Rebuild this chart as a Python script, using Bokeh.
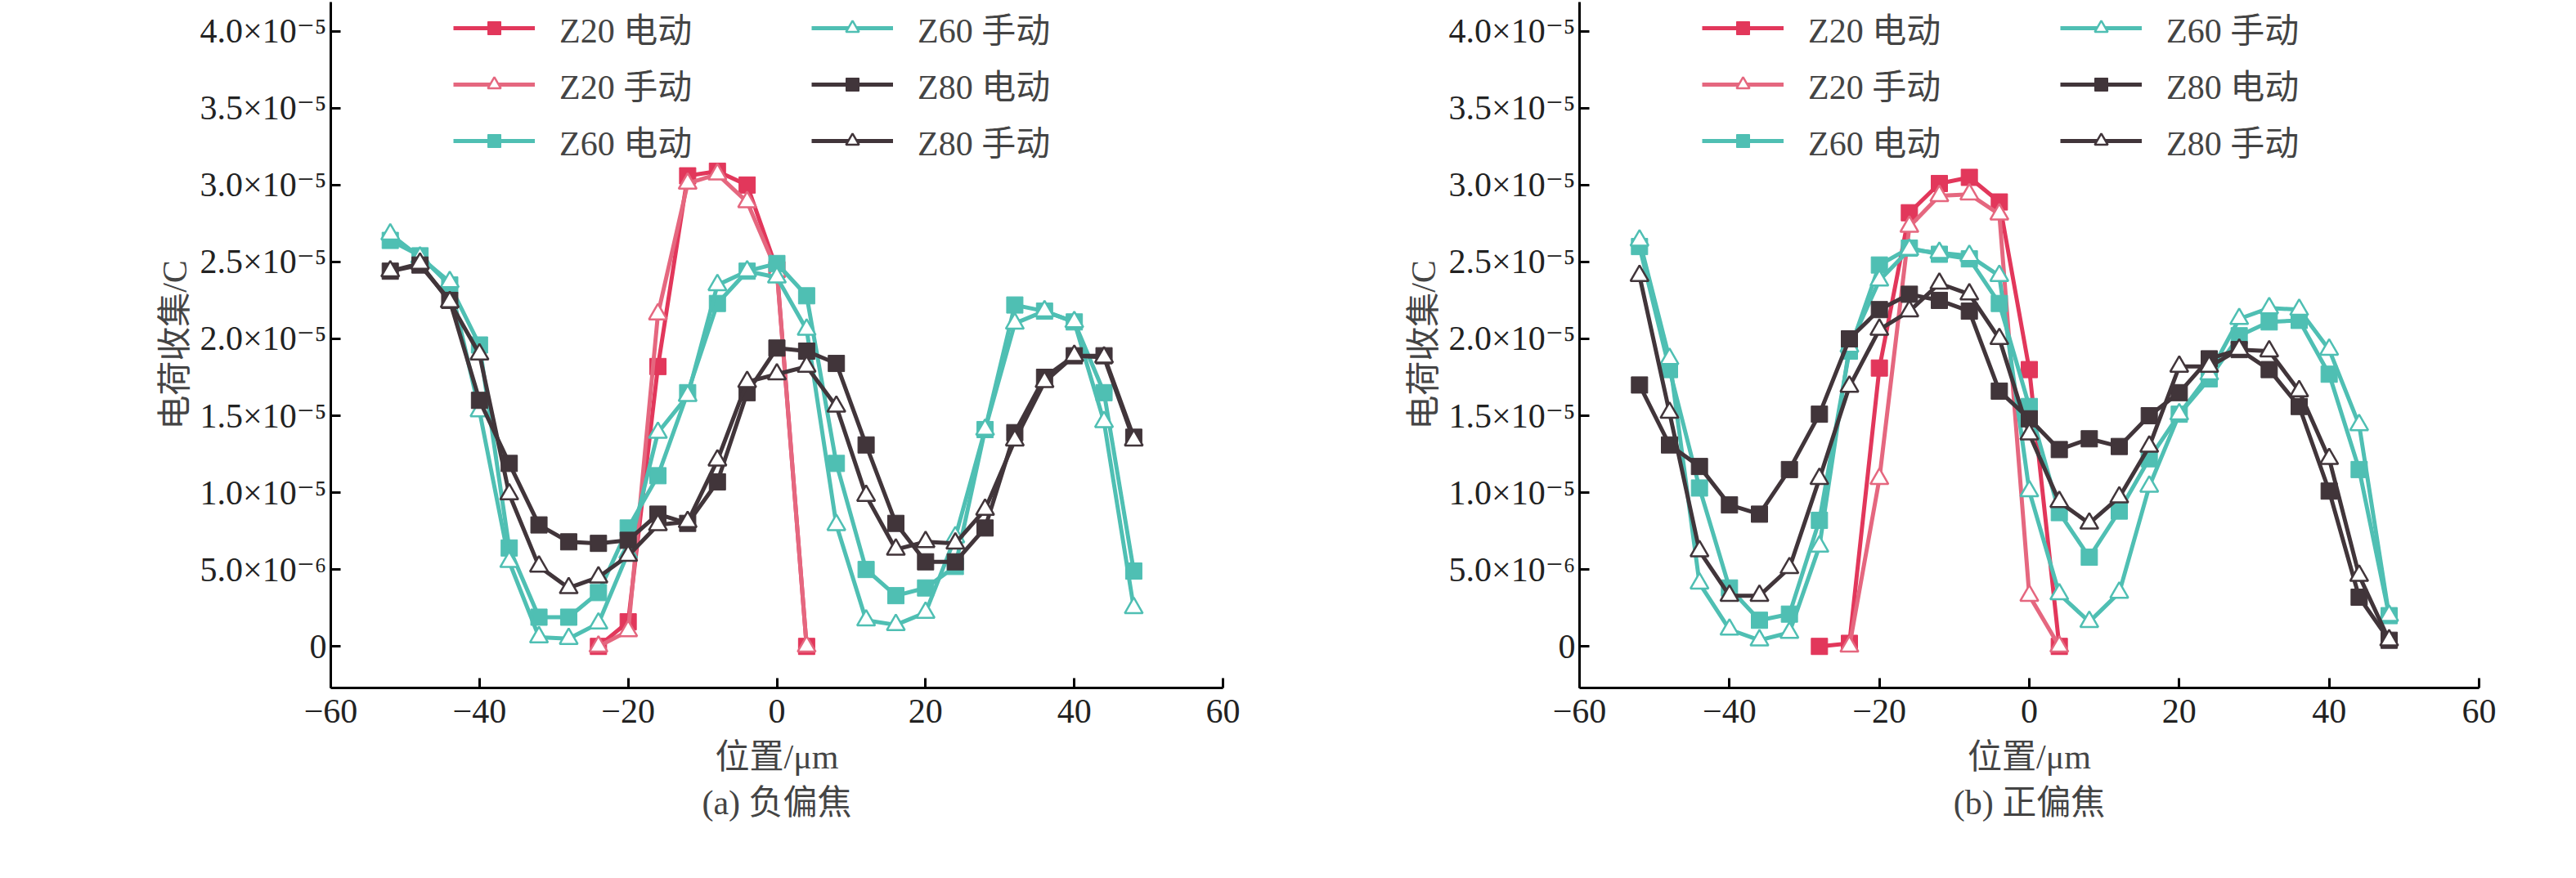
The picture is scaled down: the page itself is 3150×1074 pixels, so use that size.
from bokeh.plotting import figure
from bokeh.layouts import row
from bokeh.models import FixedTicker, Range1d, Title, Legend, LegendItem
from bokeh.embed import file_html
from bokeh.resources import INLINE

x = [-52, -48, -44, -40, -36, -32, -28, -24, -20, -16, -12, -8, -4, 0, 4, 8, 12, 16, 20, 24, 28, 32, 36, 40, 44, 48]
x20a = [-24, -20, -16, -12, -8, -4, 0, 4]
a_z20e = [0, 1.6, 18.2, 30.6, 30.9, 30.0, 24.5, 0]
a_z20m = [0, 1.0, 21.6, 30.1, 30.7, 28.9, 24.4, 0]
a_z60e = [26.4, 25.4, 23.5, 19.6, 6.4, 1.9, 1.9, 3.5, 7.7, 11.1, 16.5, 22.3, 24.4, 24.9, 22.8, 11.9, 5.0, 3.3, 3.8, 5.2, 14.1, 22.2, 21.8, 21.1, 16.5, 4.9]
a_z60m = [26.8, 25.3, 23.7, 15.3, 5.5, 0.6, 0.5, 1.5, 6.1, 13.9, 16.3, 23.5, 24.4, 24.0, 20.6, 7.9, 1.7, 1.4, 2.2, 7.1, 14.1, 21.0, 21.8, 21.1, 14.6, 2.5]
a_z80e = [24.4, 24.8, 22.5, 16.0, 11.9, 7.9, 6.8, 6.7, 6.9, 8.6, 8.0, 10.7, 16.5, 19.4, 19.2, 18.4, 13.1, 8.0, 5.5, 5.5, 7.7, 13.9, 17.5, 18.9, 18.9, 13.6]
a_z80m = [24.4, 24.9, 22.4, 19.0, 9.9, 5.2, 3.8, 4.5, 5.9, 7.9, 8.1, 12.1, 17.2, 17.7, 18.2, 15.6, 9.8, 6.3, 6.8, 6.7, 8.9, 13.4, 17.2, 18.9, 18.8, 13.4]

x20b_e = [-28, -24, -20, -16, -12, -8, -4, 0, 4]
b_z20e = [0, 0.2, 18.1, 28.2, 30.1, 30.5, 28.9, 18.0, 0]
x20b_m = [-24, -20, -16, -12, -8, -4, 0, 4]
b_z20m = [0, 10.9, 27.3, 29.3, 29.4, 28.1, 3.3, 0]
b_z60e = [26.0, 18.0, 10.3, 3.8, 1.7, 2.1, 8.2, 19.2, 24.8, 25.9, 25.5, 25.2, 22.3, 15.6, 8.7, 5.8, 8.8, 12.2, 15.1, 17.4, 20.2, 21.1, 21.2, 17.7, 11.5, 2.0]
b_z60m = [26.4, 18.7, 4.1, 1.1, 0.4, 0.9, 6.5, 19.5, 23.8, 25.8, 25.6, 25.4, 24.1, 10.1, 3.4, 1.6, 3.5, 10.4, 15.1, 17.7, 21.3, 22.0, 21.9, 19.3, 14.4, 2.0]
b_z80e = [17.0, 13.1, 11.7, 9.2, 8.6, 11.5, 15.1, 20.0, 21.9, 22.9, 22.5, 21.8, 16.6, 14.8, 12.8, 13.5, 13.0, 15.0, 16.5, 18.7, 19.3, 18.0, 15.6, 10.1, 3.2, 0.4]
b_z80m = [24.1, 15.2, 6.2, 3.3, 3.3, 5.1, 10.9, 16.9, 20.6, 21.8, 23.6, 22.9, 20.0, 13.8, 9.4, 8.0, 9.7, 13.0, 18.2, 18.2, 19.3, 19.2, 16.6, 12.2, 4.6, 0.4]

labels = ["Z20 电动", "Z20 手动", "Z60 电动", "Z60 手动", "Z80 电动", "Z80 手动"]
yticks = [0, 5e-6, 1e-5, 1.5e-5, 2e-5, 2.5e-5, 3e-5, 3.5e-5, 4e-5]
ytick_labels = ["0", "5.0×10⁻⁶", "1.0×10⁻⁵", "1.5×10⁻⁵", "2.0×10⁻⁵", "2.5×10⁻⁵", "3.0×10⁻⁵", "3.5×10⁻⁵", "4.0×10⁻⁵"]
xticks = [-60, -40, -20, 0, 20, 40, 60]

RED = "#E2375B"
RED2 = "#E5677F"
TEAL = "#4FBFB3"
DARK = "#41353A"
SERIF = "'Liberation Serif', 'DejaVu Serif', serif"
CJK = "'Liberation Serif', 'Noto Sans CJK SC', serif"


def make(series, caption, left, frame_w, width):
    p = figure(width=width, height=1058, output_backend="svg", toolbar_location=None,
               x_range=Range1d(-60, 60), y_range=Range1d(-2.7e-6, 4.19e-5),
               min_border_left=left, min_border_right=width - left - frame_w,
               min_border_top=2, min_border_bottom=217)
    p.outline_line_color = None
    p.xgrid.visible = False
    p.ygrid.visible = False
    for ax in (p.xaxis, p.yaxis):
        ax.major_tick_in = 12
        ax.major_tick_out = 0
        ax.minor_tick_line_color = None
        ax.axis_line_width = 3
        ax.major_tick_line_width = 3
        ax.major_label_text_font = SERIF
        ax.major_label_text_font_size = "42px"
        ax.major_label_text_color = "#222222"
        ax.axis_label_text_font = CJK
        ax.axis_label_text_font_size = "42px"
        ax.axis_label_text_font_style = "normal"
    p.yaxis.ticker = FixedTicker(ticks=yticks)
    p.yaxis.major_label_overrides = {t: l for t, l in zip(yticks, ytick_labels)}
    p.xaxis.ticker = FixedTicker(ticks=xticks)
    p.xaxis.axis_label = "位置/μm"
    p.yaxis.axis_label = "电荷收集/C"
    p.xaxis.major_label_standoff = 14
    p.xaxis.axis_label_standoff = 16

    items = []
    for (xs, ys, color, marker), lab in zip(series, labels):
        yy = [v * 1e-6 for v in ys]
        r1 = p.line(xs, yy, line_color=color, line_width=5)
        if marker == "square":
            r2 = p.scatter(xs, yy, marker="square", size=20, fill_color=color, line_color=color)
        else:
            r2 = p.scatter(xs, yy, marker="triangle", size=22, fill_color="white", line_color=color, line_width=2.5)
        items.append(LegendItem(label=lab, renderers=[r1, r2]))
    leg = Legend(items=items, ncols=2, location=(150, 639), background_fill_alpha=0,
                 border_line_color=None, label_text_font=CJK, label_text_font_size="42px",
                 glyph_width=100, glyph_height=40, spacing=8, label_standoff=30,
                 label_width=300, padding=0, margin=0)
    p.add_layout(leg, "center")
    p.add_layout(Title(text=caption, align="center", text_font=CJK, text_font_size="42px",
                       text_font_style="normal", standoff=10), "below")
    return p


sa = [(x20a, a_z20e, RED, "square"), (x20a, a_z20m, RED2, "tri"),
      (x, a_z60e, TEAL, "square"), (x, a_z60m, TEAL, "tri"),
      (x, a_z80e, DARK, "square"), (x, a_z80m, DARK, "tri")]
sb = [(x20b_e, b_z20e, RED, "square"), (x20b_m, b_z20m, RED2, "tri"),
      (x, b_z60e, TEAL, "square"), (x, b_z60m, TEAL, "tri"),
      (x, b_z80e, DARK, "square"), (x, b_z80m, DARK, "tri")]

pa = make(sa, "(a) 负偏焦", 404, 1091, 1575)
pb = make(sb, "(b) 正偏焦", 356, 1100, 1555)
layout = row(pa, pb)
open("out.html", "w").write(file_html(layout, INLINE))
